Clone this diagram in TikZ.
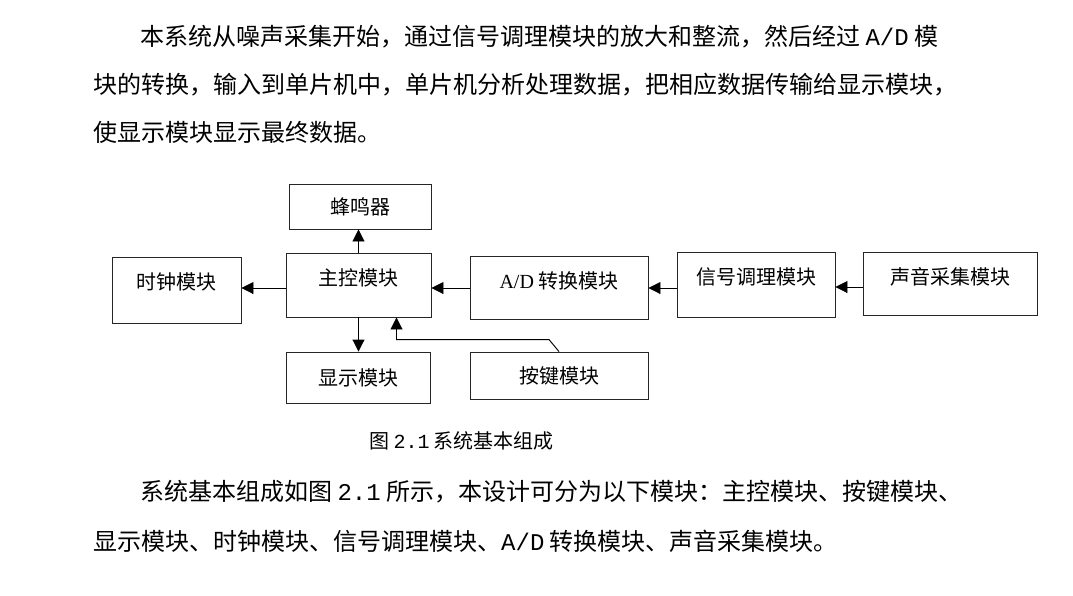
\documentclass[tikz,border=0pt]{standalone}
\usepackage{fontspec}
\setmainfont{Liberation Serif}
\setmonofont{Liberation Mono}
\newfontfamily\cjk{Noto Sans CJK SC}
\usetikzlibrary{arrows.meta,positioning}

\begin{document}
\begin{tikzpicture}[x=1pt,y=-1pt,
    blk/.style={draw=black!85, line width=0.9pt, inner sep=0pt, font=\cjk\fontsize{20}{24}\selectfont},
    arr/.style={-{Triangle[length=12pt,width=12pt]}, line width=0.9pt},
    para/.style={anchor=west, inner sep=0pt, font=\cjk\fontsize{24}{28}\selectfont},
    captext/.style={inner sep=0pt, font=\cjk\fontsize{20}{24}\selectfont}]
  \useasboundingbox (0,0) rectangle (1073,595);

  % text above
  \node[para] (l1) at (140,37) {本系统从噪声采集开始，通过信号调理模块的放大和整流，然后经过 {\ttfamily A/D} 模};
  \node[para] (l2) at (93,85) {块的转换，输入到单片机中，单片机分析处理数据，把相应数据传输给显示模块，};
  \node[para] (l3) at (93,132) {使显示模块显示最终数据。};

  % blocks
  \node[blk, minimum width=142pt, minimum height=45pt] (buzz) at (360,206.5) {蜂鸣器};
  \node[blk, minimum width=145pt, minimum height=64pt, text depth=16pt] (main) at (358.5,285) {主控模块};
  \node[blk, minimum width=129pt, minimum height=66pt, text depth=18pt] (clock) at (176.5,290) {时钟模块};
  \node[blk, minimum width=144pt, minimum height=51pt] (disp) at (358,377.5) {显示模块};
  \node[blk, minimum width=178pt, minimum height=63pt, text depth=15pt] (adc) at (559,287.5) {{\rmfamily A/D} 转换模块};
  \node[blk, minimum width=158pt, minimum height=65pt, text depth=17pt] (cond) at (756,284.5) {信号调理模块};
  \node[blk, minimum width=174pt, minimum height=63pt, text depth=15pt] (mic) at (950,283.5) {声音采集模块};
  \node[blk, minimum width=178pt, minimum height=47pt] (key) at (559,375.5) {按键模块};

  \draw[arr] ([yshift=-3.5pt]mic.west) -- ([yshift=-3.5pt]mic.west -| cond.east);
  \draw[arr] ([yshift=-3.5pt]cond.west) -- ([yshift=-3.5pt]cond.west -| adc.east);
  \draw[arr] ([yshift=-0.5pt]adc.west) -- ([yshift=-0.5pt]adc.west -| main.east);
  \draw[arr] ([yshift=-3pt]main.west) -- ([yshift=-3pt]main.west -| clock.east);
  \draw[arr] (main.north) -- (main.north |- buzz.south);
  \draw[arr] (main.south) -- (main.south |- disp.north);
  \draw[arr] (key.north) -- ++(-10,-12) -| ([xshift=38pt]main.south);

  \node[captext] (fig) at (461.5,441) {图 {\ttfamily 2.1} 系统基本组成};

  % text below
  \node[para] (l4) at (140,492) {系统基本组成如图 {\ttfamily 2.1} 所示，本设计可分为以下模块：主控模块、按键模块、};
  \node[para] (l5) at (93,541) {显示模块、时钟模块、信号调理模块、{\ttfamily A/D} 转换模块、声音采集模块。};
\end{tikzpicture}
\end{document}
